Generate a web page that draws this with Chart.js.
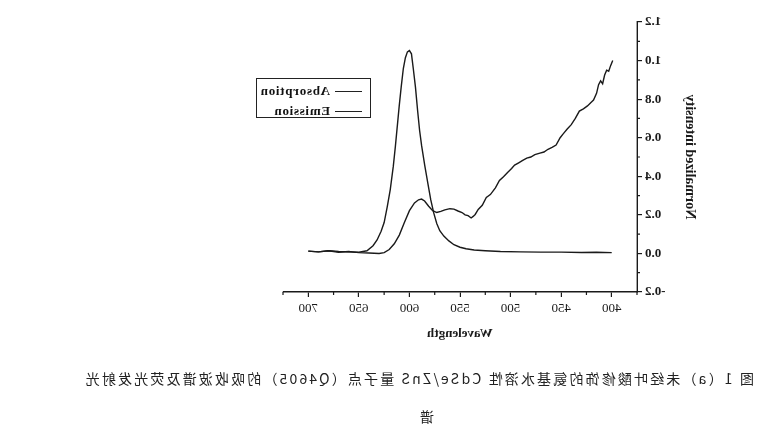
<!DOCTYPE html>
<html>
<head>
<meta charset="utf-8">
<script src="https://cdn.jsdelivr.net/npm/chart.js@4.4.1/dist/chart.umd.min.js"></script>
<style>
    html, body { margin: 0; padding: 0; background: #fff; overflow: hidden; }
    #page { position: relative; width: 784px; height: 431px; transform: scaleX(-1); }
    #chartBox { position: absolute; left: 0; top: 0; width: 784px; height: 360px; }
    #legend {
        position: absolute; left: 413px; top: 78px; width: 113px; height: 38px;
        border: 1px solid #222; background: #fff;
        font-family: "Liberation Serif", serif; font-weight: bold; font-size: 13px; color: #111;
    }
    .row { position: absolute; left: 8px; height: 16px; line-height: 16px; white-space: nowrap; }
    .row span.sample { display: inline-block; width: 27px; height: 0; border-top: 1.2px solid #222; vertical-align: middle; margin-right: 5px; }
    .row span.txt { letter-spacing: 0.7px; vertical-align: middle; }
    .cap {
        position: absolute; font-family: "Noto Sans CJK SC", sans-serif; font-size: 14px; color: #222;
        white-space: nowrap; letter-spacing: 2.15px; line-height: 18px;
    }
</style>
</head>
<body>
<div id="page">
    <div id="chartBox"><canvas id="specChart" width="784" height="360"></canvas></div>
    <div id="legend"></div>
    <div class="cap" id="cap1" style="left:30px; top:369px;">图 1（a）未经叶酸修饰的氨基水溶性 CdSe/ZnS 量子点（Q4605）的吸收波谱及荧光发射光</div>
    <div class="cap" id="cap2" style="left:350px; top:407px;">谱</div>
</div>
<script>
// absorption (nm / normalized)
const absWave = [700, 690, 680, 670, 660, 650, 640, 630, 625, 620, 615, 610, 605, 600, 595, 591, 588, 585, 581, 577,
    573, 569, 565, 560, 556, 552, 548, 545, 542, 539, 537, 535, 532, 528, 524, 520, 515, 511, 507, 503,
    499, 496, 492, 488, 484, 480, 476, 471, 467, 463, 459, 455, 451, 448, 444, 440, 436, 432, 428, 424,
    420, 418, 415, 413, 411, 409, 407, 405, 403, 401, 399];
const absValue = [0.012, 0.008, 0.014, 0.006, 0.010, 0.004, 0.002, 0.000, 0.004, 0.020, 0.050, 0.095, 0.160, 0.222, 0.262, 0.278, 0.282, 0.272, 0.245, 0.222,
    0.212, 0.218, 0.226, 0.232, 0.230, 0.220, 0.212, 0.200, 0.196, 0.184, 0.192, 0.202, 0.228, 0.250, 0.290, 0.305, 0.340, 0.378, 0.398, 0.420,
    0.440, 0.458, 0.470, 0.482, 0.494, 0.500, 0.512, 0.520, 0.526, 0.540, 0.550, 0.562, 0.600, 0.620, 0.645, 0.668, 0.700, 0.738, 0.750, 0.765,
    0.785, 0.795, 0.830, 0.875, 0.895, 0.880, 0.925, 0.950, 0.945, 0.975, 1.000];

// emission
const emWave = [700, 690, 680, 670, 660, 650, 642, 636, 632, 628, 625, 622, 619, 616, 614, 612, 610, 608, 606, 604,
    602, 600, 598, 596, 594, 592, 590, 588, 585, 582, 579, 576, 573, 570, 566, 561, 556, 550, 544, 536,
    525, 510, 490, 470, 450, 430, 415, 400];
const emValue = [0.012, 0.008, 0.014, 0.010, 0.008, 0.006, 0.014, 0.040, 0.070, 0.115, 0.160, 0.240, 0.330, 0.450, 0.550, 0.660, 0.770, 0.870, 0.960, 1.015,
    1.045, 1.052, 1.035, 0.950, 0.860, 0.745, 0.640, 0.560, 0.460, 0.370, 0.280, 0.210, 0.155, 0.118, 0.090, 0.065, 0.045, 0.032, 0.024, 0.018,
    0.014, 0.010, 0.008, 0.007, 0.007, 0.005, 0.006, 0.004];

const seriesNames = ['Absorption', 'Emission'];
const xTicks = [400, 450, 500, 550, 600, 650, 700];
const xMinor = [375, 425, 475, 525, 575, 625, 675, 725];
const yTicks = [-0.2, 0.0, 0.2, 0.4, 0.6, 0.8, 1.0, 1.2];
const yMinor = [-0.1, 0.1, 0.3, 0.5, 0.7, 0.9, 1.1];

const ink = '#1a1a1a';

function toPoints(xs, ys) {
    const pts = [];
    for (let i = 0; i < xs.length; i++) {
        pts.push({ x: xs[i], y: ys[i] });
    }
    return pts;
}

// short minor ticks, drawn at the scale's own pixel positions
const minorTicks = {
    id: 'minorTicks',
    afterDraw(chart) {
        const ctx = chart.ctx;
        const xs = chart.scales.x;
        const ys = chart.scales.y;
        ctx.save();
        ctx.strokeStyle = ink;
        ctx.lineWidth = 1.2;
        ctx.beginPath();
        xMinor.forEach(v => {
            const px = xs.getPixelForValue(v);
            ctx.moveTo(px, xs.top);
            ctx.lineTo(px, xs.top + 3);
        });
        yMinor.forEach(v => {
            const py = ys.getPixelForValue(v);
            ctx.moveTo(ys.right, py);
            ctx.lineTo(ys.right - 3, py);
        });
        ctx.stroke();
        ctx.restore();
    }
};

function buildLegend(datasets) {
    const box = document.getElementById('legend');
    box.innerHTML = '';
    for (let i = 0; i < datasets.length; i++) {
        const row = document.createElement('div');
        row.className = 'row';
        row.style.top = (3 + i * 20) + 'px';
        row.innerHTML = '<span class="sample"></span><span class="txt">' + datasets[i].label + '</span>';
        box.appendChild(row);
    }
}

function init() {
    const datasets = [
        {
            label: seriesNames[0],
            data: toPoints(absWave, absValue),
            borderColor: ink,
            borderWidth: 1.4,
            pointRadius: 0,
            showLine: true,
            tension: 0
        },
        {
            label: seriesNames[1],
            data: toPoints(emWave, emValue),
            borderColor: ink,
            borderWidth: 1.4,
            pointRadius: 0,
            showLine: true,
            tension: 0
        }
    ];

    const xTickFont = { family: '"Liberation Serif", serif', size: 13 };
    const yTickFont = { family: '"Liberation Serif", serif', size: 13, weight: 'bold' };
    const xTitleFont = { family: '"Liberation Serif", serif', size: 13, weight: 'bold' };
    const yTitleFont = { family: '"Liberation Serif", serif', size: 14, weight: 'bold' };

    const ctx = document.getElementById('specChart').getContext('2d');
    new Chart(ctx, {
        type: 'scatter',
        data: { datasets },
        options: {
            responsive: false,
            animation: false,
            layout: { padding: { left: 80, right: 283, top: 22, bottom: 15 } },
            plugins: { legend: { display: false }, tooltip: { enabled: false } },
            scales: {
                x: {
                    type: 'linear',
                    min: 375,
                    max: 725,
                    afterBuildTicks: scale => { scale.ticks = xTicks.map(v => ({ value: v })); },
                    afterFit: scale => { scale.height = 53; },
                    border: { display: true, color: ink, width: 1.4 },
                    grid: { drawOnChartArea: false, drawTicks: true, tickLength: 5, color: ink, lineWidth: 1.2 },
                    ticks: { color: ink, font: xTickFont, padding: 4, maxRotation: 0, callback: v => String(v) },
                    title: { display: true, text: 'Wavelength', color: ink, font: xTitleFont, padding: { top: 0, bottom: 4 } }
                },
                y: {
                    type: 'linear',
                    min: -0.2,
                    max: 1.2,
                    afterBuildTicks: scale => { scale.ticks = yTicks.map(v => ({ value: v })); },
                    afterFit: scale => { scale.width = 67; },
                    border: { display: true, color: ink, width: 1.4 },
                    grid: { drawOnChartArea: false, drawTicks: true, tickLength: 5, color: ink, lineWidth: 1.2 },
                    ticks: { color: ink, font: yTickFont, padding: 3, callback: v => Number(v).toFixed(1) },
                    title: { display: true, text: 'Normalized intensity', color: ink, font: yTitleFont, padding: { top: 6, bottom: 0 } }
                }
            }
        },
        plugins: [minorTicks]
    });

    buildLegend(datasets);
}

init();
</script>
</body>
</html>
